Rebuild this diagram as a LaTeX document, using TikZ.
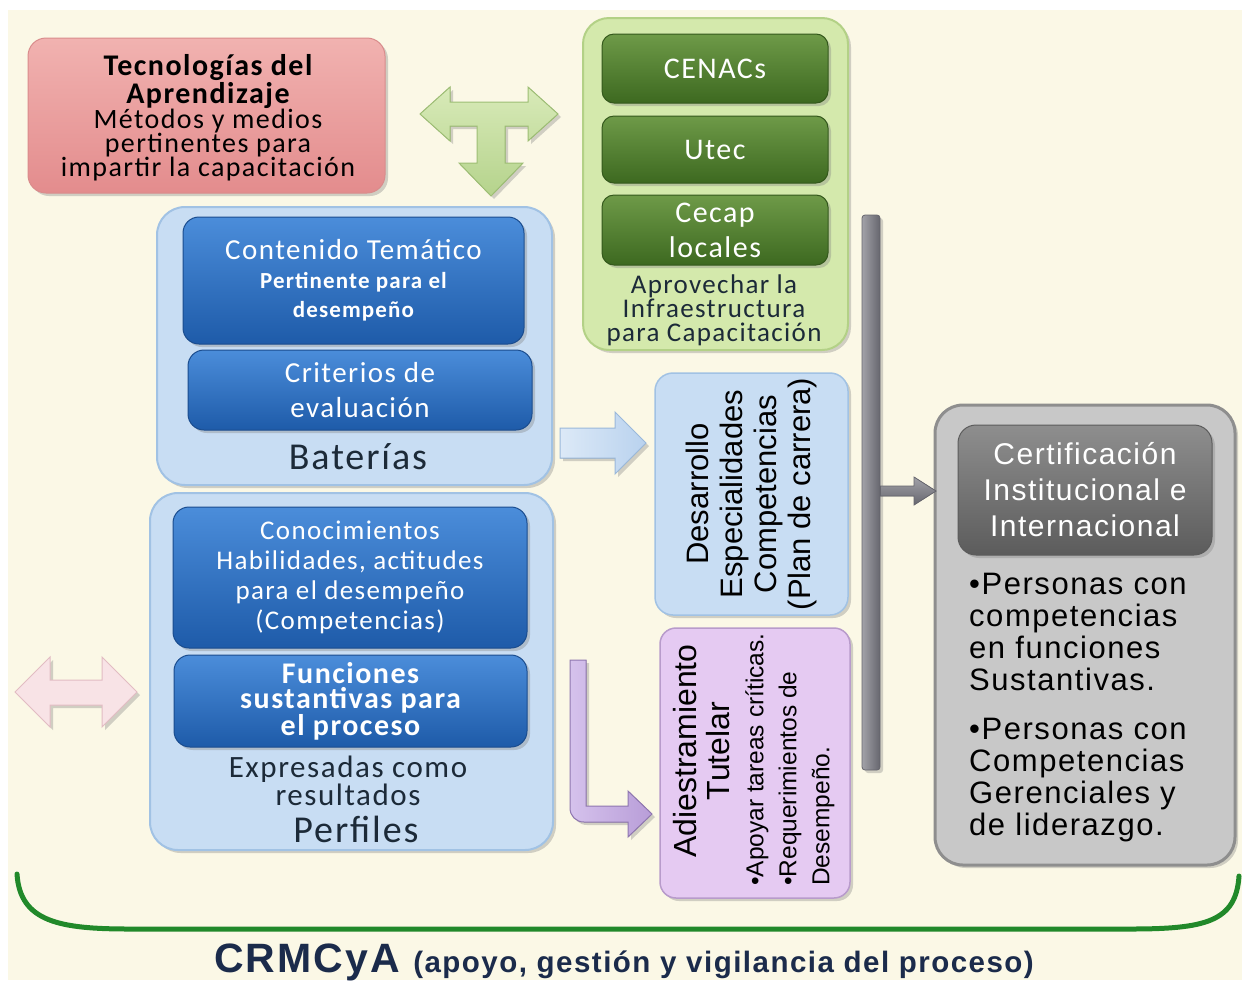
\documentclass[tikz,border=0pt]{standalone}
\usepackage{fontspec}
\setmainfont{Carlito}[LetterSpace=5]
\newfontfamily\arialf{Liberation Sans}
\newfontfamily\arialsp{Liberation Sans}[LetterSpace=5]
\usetikzlibrary{shadows}

\definecolor{cream}{HTML}{FBF8E6}
\definecolor{pinkT}{HTML}{F1B2B0}
\definecolor{pinkB}{HTML}{E38C8D}
\definecolor{pinkD}{HTML}{D98C8C}
\definecolor{tgreenT}{HTML}{D8EAB8}
\definecolor{tgreenB}{HTML}{B5D38C}
\definecolor{tgreenD}{HTML}{9DBE74}
\definecolor{panelgreen}{HTML}{D4E9AC}
\definecolor{panelgreenD}{HTML}{B3D186}
\definecolor{dkgreenT}{HTML}{6E9A48}
\definecolor{dkgreenB}{HTML}{3D6920}
\definecolor{dkgreenD}{HTML}{34581C}
\definecolor{bluepanel}{HTML}{C8DDF3}
\definecolor{bluepanelD}{HTML}{A1C2E4}
\definecolor{blueT}{HTML}{4B8DDA}
\definecolor{blueB}{HTML}{1E5BA9}
\definecolor{blueD}{HTML}{1A4C8E}
\definecolor{lav}{HTML}{E5CAF2}
\definecolor{lavD}{HTML}{B89BCB}
\definecolor{purT}{HTML}{D5C2EC}
\definecolor{purB}{HTML}{B89DD8}
\definecolor{purD}{HTML}{8F77B0}
\definecolor{barL}{HTML}{A2A2A8}
\definecolor{barR}{HTML}{66666E}
\definecolor{grayout}{HTML}{C8C8C8}
\definecolor{grayoutD}{HTML}{8E8E8E}
\definecolor{grayinT}{HTML}{8E8E8E}
\definecolor{grayinB}{HTML}{5C5C5C}
\definecolor{pinkarrow}{HTML}{F8E3E6}
\definecolor{pinkarrowD}{HTML}{E2BCC3}
\definecolor{ltblueT}{HTML}{DCE9F7}
\definecolor{ltblueB}{HTML}{B9D2EE}
\definecolor{ltblueD}{HTML}{9AB8DA}
\definecolor{bracegreen}{HTML}{21892A}
\definecolor{navy}{HTML}{1B2B4B}
\definecolor{inktext}{HTML}{1C2A38}

\begin{document}
\begin{tikzpicture}[x=1pt,y=-1pt,
  softshadow/.style={drop shadow={shadow xshift=3pt,shadow yshift=-3pt,opacity=0.35}},
  box/.style={rounded corners=18pt, inner sep=0pt, align=center},
  pinkbox/.style={box, top color=pinkT, bottom color=pinkB, draw=pinkD, line width=1pt, softshadow},
  greenpanel/.style={box, rounded corners=26pt, fill=panelgreen, draw=panelgreenD, line width=2pt, softshadow},
  greenbox/.style={box, rounded corners=12pt, top color=dkgreenT, bottom color=dkgreenB, draw=dkgreenD, line width=1pt, text=white, softshadow},
  bluepanelbox/.style={box, rounded corners=28pt, fill=bluepanel, draw=bluepanelD, line width=2pt, softshadow},
  bluebox/.style={box, rounded corners=16pt, top color=blueT, bottom color=blueB, draw=blueD, line width=1pt, text=white, softshadow},
  lavbox/.style={box, rounded corners=16pt, fill=lav, draw=lavD, line width=1.5pt, softshadow},
  grayouter/.style={box, rounded corners=28pt, fill=grayout, draw=grayoutD, line width=3pt, softshadow},
  grayinner/.style={box, rounded corners=18pt, top color=grayinT, bottom color=grayinB, draw=grayinB, line width=1pt, text=white, softshadow},
  fatgreen/.style={top color=tgreenT, bottom color=tgreenB, draw=tgreenD, line width=1pt, softshadow},
  fatblue/.style={left color=ltblueT, right color=ltblueB, draw=ltblueD, line width=1pt, softshadow},
  fatpink/.style={fill=pinkarrow, draw=pinkarrowD, line width=1pt, softshadow},
  fatpurple/.style={left color=purT, right color=purB, draw=purD, line width=1pt, softshadow},
  fatgray/.style={top color=barL, bottom color=barR, draw=barR, line width=0.8pt},
  caption/.style={inner sep=0pt, align=center, text=inktext},
  vtext/.style={inner sep=0pt, rotate=90, text=black}
]
\useasboundingbox (0,0) rectangle (1249,986);
\fill[white] (0,0) rectangle (1249,986);
\fill[cream] (8,10) rectangle (1242,980);

% curved bracket along the bottom
\draw[bracegreen, line width=5pt, line cap=round]
  (17,874) .. controls (20,922) and (60,929) .. (130,929) -- (1130,929)
  .. controls (1205,929) and (1236,922) .. (1239,876);

% learning technologies
\node[pinkbox, minimum width=357pt, minimum height=155pt, font=\fontsize{28}{24}\selectfont] (tec) at (206.5,115.5) {};
\node[caption, text=black, font=\fontsize{28}{24}\selectfont] (tectxt) at (208,118)
  {\fontsize{30}{24}\selectfont\bfseries Tecnologías del\\
   \fontsize{30}{24}\selectfont\bfseries Aprendizaje\\
   Métodos y medios\\
   pertinentes para\\
   impartir la capacitación};

% T-shaped three-way arrow
\filldraw[fatgreen]
  (420,114) -- (450,87) -- (450,102) -- (528,102) -- (528,87) -- (558,114)
  -- (528,141) -- (528,126) -- (505,126) -- (505,163) -- (523,163)
  -- (491,196) -- (459,163) -- (477,163) -- (477,126) -- (450,126)
  -- (450,141) -- cycle;

% infrastructure panel
\node[greenpanel, minimum width=265pt, minimum height=332pt] (infra) at (715.5,184) {};
\node[greenbox, minimum width=226pt, minimum height=69pt, font=\fontsize{30}{34}\selectfont] (cenacs) at (715,68.5) {CENACs};
\node[greenbox, minimum width=226pt, minimum height=67pt, font=\fontsize{30}{34}\selectfont] (utec) at (715,149.5) {Utec};
\node[greenbox, minimum width=226pt, minimum height=70pt, font=\fontsize{30}{35}\selectfont] (cecap) at (715,230) {Cecap\\locales};
\node[caption, font=\fontsize{27}{24}\selectfont] (aprov) at (714,310) {Aprovechar la\\Infraestructura\\para Capacitación};

% batteries panel
\node[bluepanelbox, minimum width=395pt, minimum height=278pt] (bat) at (354.5,346) {};
\node[bluebox, minimum width=341pt, minimum height=127pt, font=\fontsize{23}{29}\selectfont] (cont) at (353.5,280.5)
  {\fontsize{29}{29}\selectfont Contenido Temático\\
   \bfseries Pertinente para el\\
   \bfseries desempeño};
\node[bluebox, minimum width=344pt, minimum height=80pt, font=\fontsize{29}{35}\selectfont] (crit) at (360,390) {Criterios de\\evaluación};
\node[caption, font=\fontsize{38}{38}\selectfont] (batlbl) at (358,457) {Baterías};

% profiles panel
\node[bluepanelbox, minimum width=403pt, minimum height=357pt] (perf) at (351.5,671.5) {};
\node[bluebox, minimum width=354pt, minimum height=141pt, font=\fontsize{27}{30}\selectfont] (conoc) at (350,577.5)
  {Conocimientos\\Habilidades, actitudes\\para el desempeño\\(Competencias)};
\node[bluebox, minimum width=353pt, minimum height=92pt, font=\fontsize{30}{25.5}\selectfont\bfseries] (func) at (350.5,701)
  {Funciones\\sustantivas para\\el proceso};
\node[caption, font=\fontsize{31}{24}\selectfont] (expr) at (348,781) {Expresadas como\\resultados};
\node[caption, font=\fontsize{38}{38}\selectfont] (perflbl) at (356,829) {Perfiles};

% left two-way arrow
\filldraw[fatpink]
  (15,692) -- (50,657) -- (50,680) -- (102,680) -- (102,657) -- (137,692)
  -- (102,727) -- (102,705) -- (50,705) -- (50,727) -- cycle;

% arrow from batteries to career development
\filldraw[fatblue]
  (560,428) -- (615,428) -- (615,412) -- (646,443) -- (615,474) -- (615,458) -- (560,458) -- cycle;

% career development
\node[box, rounded corners=18pt, fill=bluepanel, draw=bluepanelD, line width=1.5pt, softshadow,
      minimum width=193pt, minimum height=242pt] (des) at (751.5,494) {};
\node[vtext, align=center, font=\arialf\fontsize{31}{34}\selectfont] (destxt) at (des.center)
  {Desarrollo\\Especialidades\\Competencias\\(Plan de carrera)};

% tutoring
\node[lavbox, minimum width=190pt, minimum height=270pt] (adi) at (755,763) {};
\node[vtext, align=center, font=\arialf\fontsize{32}{33}\selectfont] (aditit) at (702,751) {Adiestramiento\\Tutelar};
\node[vtext, align=left, anchor=west, font=\arialf\fontsize{24.5}{33}\selectfont] (adibul) at (790,886)
  {•Apoyar tareas críticas.\\•Requerimientos de\\Desempeño.};

% L-shaped arrow from profiles to tutoring
\filldraw[fatpurple]
  (570,660) -- (586,660) -- (586,806) -- (628,806) -- (628,791) -- (652,814)
  -- (628,837) -- (628,822) -- (584,822) .. controls (576,822) and (570,816) .. (570,808) -- cycle;

% vertical collector bar
\node[inner sep=0pt, minimum width=18pt, minimum height=555pt, left color=barL, right color=barR,
      draw=barR, line width=0.8pt, rounded corners=3pt, softshadow] (bar) at (871,492.5) {};

% certification panel
\node[grayouter, minimum width=300pt, minimum height=460pt] (cert) at (1085,635) {};
\node[grayinner, minimum width=254pt, minimum height=130pt, font=\arialsp\fontsize{30}{36}\selectfont] (certtit) at (1085,490)
  {Certificación\\Institucional e\\Internacional};
\node[inner sep=0pt, anchor=north west, align=left, text=black, font=\arialsp\fontsize{31}{32}\selectfont] (certbul) at (969,573)
  {•Personas con\\competencias\\en funciones\\Sustantivas.\\[17pt]
   •Personas con\\Competencias\\Gerenciales y\\de liderazgo.};

% arrow from the bar to certification
\filldraw[fatgray]
  (bar.east |- 0,486) -- (914,486) -- (914,477) -- (936,491) -- (914,505) -- (914,496) -- (bar.east |- 0,496) -- cycle;

% committee caption
\node[inner sep=0pt, text=navy, font=\arialsp\bfseries] (crm) at (624,962)
  {\fontsize{41}{41}\selectfont CRMCyA \fontsize{29.5}{29.5}\selectfont(apoyo, gestión y vigilancia del proceso)};
\end{tikzpicture}
\end{document}
